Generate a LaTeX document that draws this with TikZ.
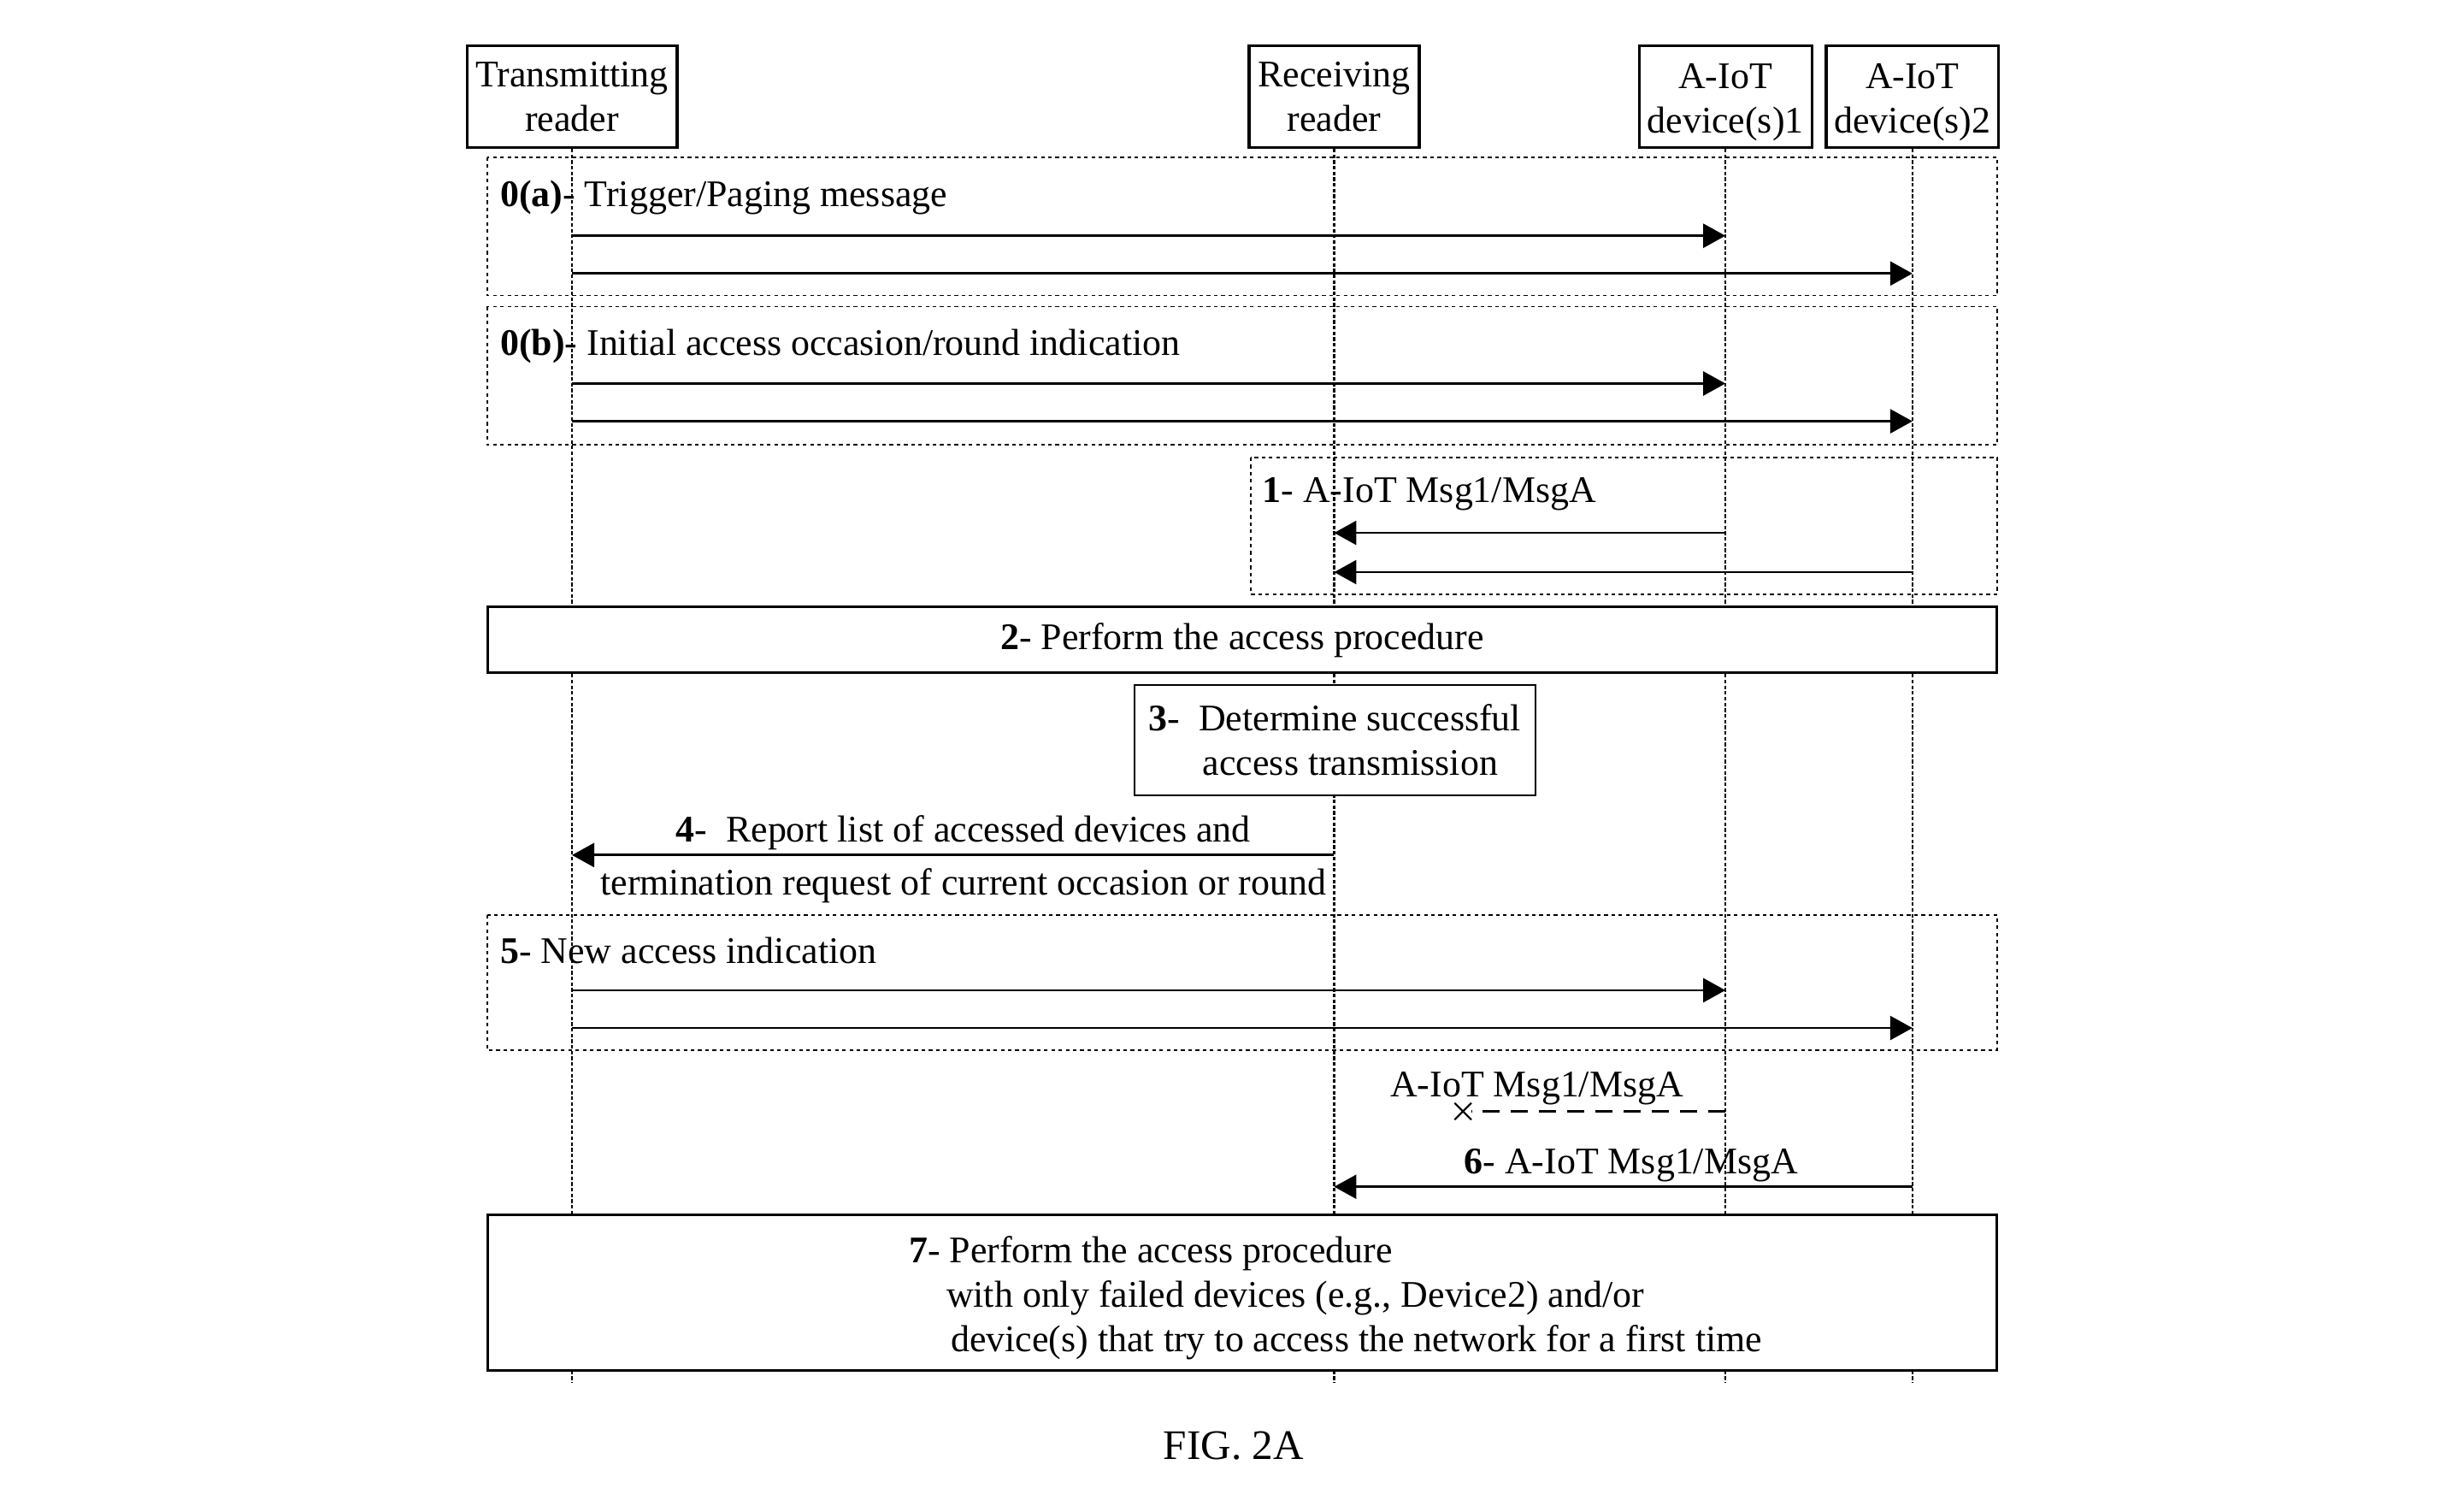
\documentclass[tikz,border=0pt]{standalone}
\usepackage{fontspec}
\setmainfont{Liberation Serif}
\usetikzlibrary{arrows.meta,shapes.misc}
\tikzset{
  every node/.style={font=\fontsize{12.5}{14.8}\selectfont},
  actor/.style={draw,line width=0.9pt,align=center,minimum height=1.19cm,inner sep=1pt},
  lifeline/.style={line width=0.65pt,dash pattern=on 1.2pt off 0.7pt},
  frame/.style={line width=0.5pt,dash pattern=on 1.2pt off 1.2pt},
  procbox/.style={draw,fill=white,line width=0.9pt,minimum width=17.66cm},
  msg/.style={line width=0.8pt,-{Triangle[length=0.26cm,width=0.28cm]}},
  lbl/.style={anchor=west,inner sep=0pt},
}
\begin{document}
\begin{tikzpicture}[x=0.01838cm,y=-0.01838cm]
\useasboundingbox (0,0) rectangle (1568,958);
\node[actor,minimum width=2.46cm] (tr) at (364,61.5) {Transmitting\\reader};
\node[actor,minimum width=1.99cm] (rr) at (849,61.5) {Receiving\\reader};
\node[actor,minimum width=2.02cm] (d1) at (1098,61.5) {\rule{0pt}{2.05ex}A-IoT\\device(s)1};
\node[actor,minimum width=2.02cm] (d2) at (1217,61.5) {\rule{0pt}{2.05ex}A-IoT\\device(s)2};
\coordinate (bottom) at (0,880);
\foreach \a in {tr,rr,d1,d2}
  \draw[lifeline] (\a.south) -- (\a |- bottom);
\foreach \n/\y in {m1/150,m2/174,m3/244,m4/268,m5/339,m6/364,m7/544,m8/630,m9/654,m10/707,m11/755}
  \coordinate (\n) at (0,\y);

\draw[frame] (310,100) rectangle (1271,188);
\node[lbl] (l0a) at (318,125.5) {\textbf{0(a)}- Trigger/Paging message};
\draw[msg] (tr |- m1) -- (d1 |- m1);
\draw[msg] (tr |- m2) -- (d2 |- m2);

\draw[frame] (310,195) rectangle (1271,283);
\node[lbl] (l0b) at (318,220.5) {\textbf{0(b)}- Initial access occasion/round indication};
\draw[msg] (tr |- m3) -- (d1 |- m3);
\draw[msg] (tr |- m4) -- (d2 |- m4);

\draw[frame] (796,291) rectangle (1271,378);
\node[lbl] (l1) at (803,314.5) {\textbf{1}- A-IoT Msg1/MsgA};
\draw[msg] (d1 |- m5) -- (rr |- m5);
\draw[msg] (d2 |- m6) -- (rr |- m6);

\node[procbox,minimum height=0.77cm,text height=0.9em] (step2) at (790.5,407) {\textbf{2}- Perform the access procedure};
\node[draw,fill=white,line width=0.6pt,minimum width=4.69cm,minimum height=1.29cm,align=left] (step3) at (849.5,471)
  {\textbf{3}-\ \ Determine successful\\\hspace*{18pt}access transmission};

\draw[msg] (rr |- m7) -- (tr |- m7);
\node (l4a) at (613,530) {\textbf{4}-\ \ Report list of accessed devices and};
\node (l4b) at (613,563.5) {termination request of current occasion or round};

\draw[frame] (310,582) rectangle (1271,668);
\node[lbl] (l5) at (318,604.5) {\textbf{5}- New access indication};
\draw[msg] (tr |- m8) -- (d1 |- m8);
\draw[msg] (tr |- m9) -- (d2 |- m9);

\node (llost) at (978,692.5) {A-IoT Msg1/MsgA};
\node[cross out,draw,minimum size=5pt,inner sep=0pt,line width=0.6pt] (lost) at (931,707) {};
\draw[line width=0.8pt,dash pattern=on 0.2cm off 0.13cm] (d1 |- m10) -- (lost);
\draw[msg] (d2 |- m11) -- (rr |- m11);
\node (l6) at (1038,741.5) {\textbf{6}- A-IoT Msg1/MsgA};

\node[procbox,minimum height=1.82cm] (step7) at (790.5,822.5) {};
\node[lbl,align=left] (l7) at (578,826) {\textbf{7}- Perform the access procedure\\
  \hspace*{12.5pt}with only failed devices (e.g., Device2) and/or\\
  \hspace*{14pt}device(s) that try to access the network for a first time};

\node[font=\fontsize{14}{16}\selectfont] (cap) at (785,920) {FIG. 2A};
\end{tikzpicture}
\end{document}
